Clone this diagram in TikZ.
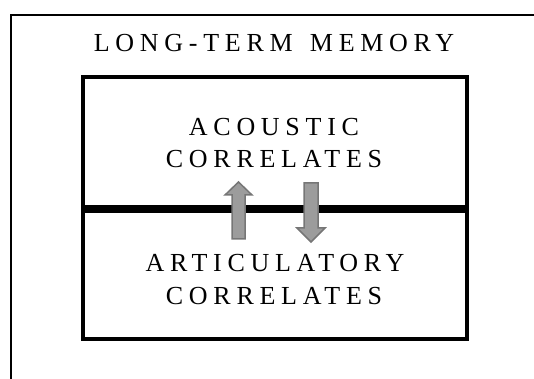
\documentclass[tikz,border=0pt]{standalone}
\usepackage{fontspec}
\setmainfont{Liberation Serif}
\newfontfamily\spaced[LetterSpace=22]{Liberation Serif}
\definecolor{arrowfill}{HTML}{9C9C9C}
\definecolor{arrowedge}{HTML}{767676}
\tikzset{
  lbl/.style={inner sep=0pt, anchor=base, font=\spaced\fontsize{26}{33}\selectfont},
  box/.style={draw=black, line width=4pt},
  blockarrow/.style={fill=arrowfill, draw=arrowedge, line width=1.5pt, line join=miter},
}
\begin{document}
\begin{tikzpicture}[x=1pt,y=1pt]
\useasboundingbox (0,0) rectangle (534,379);
\begin{scope}
\clip (0,0) rectangle (534,379);
% outer frame (extends beyond right and bottom)
\draw[line width=2.2pt] (11,-20) -- (11,364) -- (560,364);
\end{scope}
\node[lbl] (ltm) at (274,327) {LONG-TERM\hspace{5pt} MEMORY};
% inner boxes
\draw[box] (83,302) rectangle (467,172);
\draw[box] (83,168) rectangle (467,39.5);
\node[lbl] (ac1) at (274,243) {ACOUSTIC};
\node[lbl] (ac2) at (274,211) {CORRELATES};
\node[lbl] (ar1) at (275,107) {ARTICULATORY};
\node[lbl] (ar2) at (274,74) {CORRELATES};
% block arrows
\draw[blockarrow] (232,140) -- (232,184) -- (225,184) -- (238.5,197) -- (252,184) -- (245,184) -- (245,140) -- cycle;
\draw[blockarrow] (304,196) -- (304,151) -- (297,151) -- (311,137) -- (325,151) -- (318,151) -- (318,196) -- cycle;
\end{tikzpicture}
\end{document}
